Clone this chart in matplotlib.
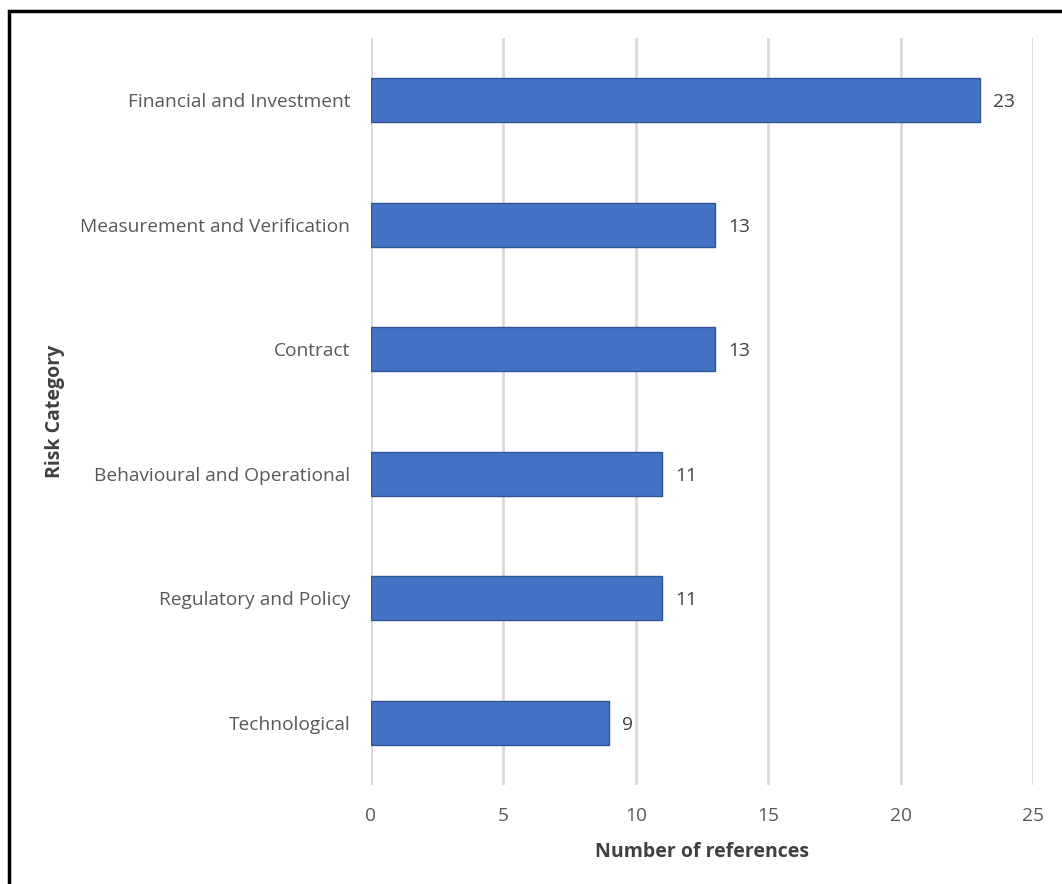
import matplotlib.pyplot as plt
from matplotlib.patches import Rectangle

categories = ['Financial and Investment', 'Measurement and Verification', 'Contract',
              'Behavioural and Operational', 'Regulatory and Policy', 'Technological']
counts = [23, 13, 13, 11, 11, 9]

plt.rcParams['font.family'] = ['Open Sans', 'DejaVu Sans']

fig = plt.figure(figsize=(10.62, 8.84), dpi=100)
ax = fig.add_axes([371/1062, 1 - 785/884, 662/1062, 747/884])

# top category first
ypos = list(range(len(categories)))[::-1]
ax.barh(ypos, counts, height=0.35, color='#4472C4', edgecolor='#2F5597', linewidth=1, zorder=3)

for y, v in zip(ypos, counts):
    ax.annotate(str(v), (v, y), xytext=(13, -2), textcoords='offset pixels',
                va='center', ha='left', fontsize=13.8, color='#404040')

ax.set_xlim(0, 25)
ax.set_ylim(-0.5, len(categories) - 0.5)
ax.set_xticks([0, 5, 10, 15, 20, 25])
ax.set_yticks(ypos)
ax.set_yticklabels(categories)
ax.grid(axis='x', color='#D9D9D9', linewidth=2, zorder=0)
for s in ax.spines.values():
    s.set_visible(False)
ax.tick_params(axis='both', length=0, labelsize=13.8, labelcolor='#595959')
ax.tick_params(axis='x', pad=16)
ax.tick_params(axis='y', pad=15)

ax.set_xlabel('Number of references', fontsize=14, fontweight='bold', color='#404040', labelpad=12)
ax.set_ylabel('Risk Category', fontsize=14, fontweight='bold', color='#404040', labelpad=11)

# frame around the chart (right and bottom edges fall outside the image)
fig.patches.append(Rectangle((9/1062, -0.1), 2, 1 - 11/884 + 0.1, transform=fig.transFigure,
                             fill=False, edgecolor='black', linewidth=2.5))

fig.savefig('out.png', dpi=100)
